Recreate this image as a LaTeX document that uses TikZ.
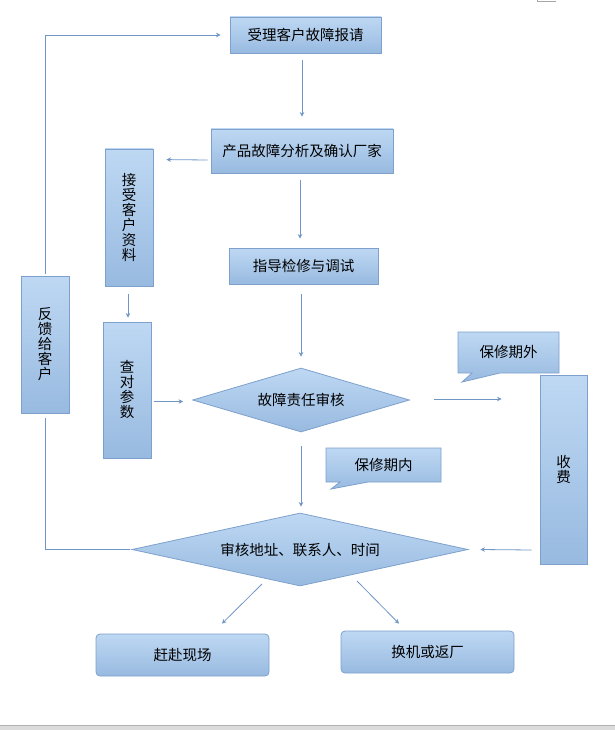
\documentclass[tikz,border=0pt]{standalone}
\usepackage{fontspec}
\newfontfamily\cjk{Noto Sans CJK SC}
\usetikzlibrary{shapes.geometric, shapes.callouts, arrows.meta, positioning}
\definecolor{boxtop}{HTML}{BED8F3}
\definecolor{boxbot}{HTML}{98BAE0}
\definecolor{boxline}{HTML}{7DA0CC}
\definecolor{linkblue}{HTML}{7096C6}
\newcommand\flowfont{\cjk\fontsize{14.5pt}{15pt}\selectfont}

\begin{document}
\begin{tikzpicture}[x=1pt, y=-1pt,
  flowbox/.style={rectangle, draw=boxline, top color=boxtop, bottom color=boxbot, line width=0.8pt, inner sep=0pt, align=center, font=\flowfont},
  roundbox/.style={flowbox, rounded corners=4pt},
  decision/.style={diamond, draw=boxline, top color=boxtop, bottom color=boxbot, line width=0.8pt, inner sep=0pt, font=\flowfont},
  notebox/.style={rectangle callout, draw=boxline, top color=boxtop, bottom color=boxbot, line width=0.8pt, inner sep=0pt, callout pointer width=28pt, font=\flowfont},
  link/.style={draw=linkblue, line width=0.8pt},
  arrow/.style={link, -{Stealth[length=4.5pt,width=4.5pt]}}]

\useasboundingbox (0,0) rectangle (615,730);
\fill[black!14] (0,725) rectangle (615,730);
\draw[black!30, line width=0.8pt] (0,725.4) -- (615,725.4);
\draw[black!35, line width=0.8pt] (537,0) -- (537,1.4) -- (556,1.4);

\node[flowbox, minimum width=151pt, minimum height=36pt] (accept) at (305.5,35) {受理客户故障报请};
\node[flowbox, minimum width=182pt, minimum height=44pt] (analyse) at (302,151) {产品故障分析及确认厂家};
\node[flowbox, minimum width=149pt, minimum height=36pt] (guide) at (303.5,266) {指导检修与调试};
\node[decision, aspect=3.39, minimum width=217pt, minimum height=64pt] (blame) at (301,400) {故障责任审核};
\node[flowbox, minimum width=48pt, minimum height=137pt] (receive) at (129,217.5) {接\\受\\客\\户\\资\\料};
\node[flowbox, minimum width=48pt, minimum height=136pt] (check) at (127,390) {查\\对\\参\\数};
\node[flowbox, minimum width=48pt, minimum height=137pt] (feedback) at (45,344.5) {反\\馈\\给\\客\\户};
\node[notebox, minimum width=101pt, minimum height=41pt, callout absolute pointer={(462,382)}] (outside) at (508.5,352.5) {保修期外};
\node[flowbox, minimum width=47pt, minimum height=189pt] (fee) at (563.5,469.5) {收\\费};
\node[notebox, minimum width=115pt, minimum height=34pt, callout absolute pointer={(331,489)}] (inside) at (383.5,465) {保修期内};
\node[decision, aspect=4.6, minimum width=336pt, minimum height=73pt] (verify) at (300,549.5) {审核地址、联系人、时间};
\node[roundbox, minimum width=173pt, minimum height=42pt] (visit) at (182.5,655) {赶赴现场};
\node[roundbox, minimum width=173pt, minimum height=42pt] (swap) at (427.5,652) {换机或返厂};

\draw[arrow] ([xshift=-3.5pt,yshift=-7pt]accept.south) -- ([yshift=12pt]analyse.north);
\draw[arrow] ([xshift=-3pt,yshift=-9pt]analyse.west) -- ([xshift=13pt,yshift=-11pt]receive.north east);
\draw[arrow] ([xshift=-2pt,yshift=-7pt]analyse.south) -- ([xshift=-3.5pt,yshift=9pt]guide.north);
\draw[arrow] ([xshift=-2.5pt,yshift=-10pt]guide.south) -- ([yshift=11pt]blame.north);
\draw[arrow] ([xshift=-1pt,yshift=-8pt]receive.south) -- ([xshift=1pt,yshift=4pt]check.north);
\draw[arrow] ([xshift=3pt,yshift=-11.5pt]check.east) -- ([xshift=-9pt,yshift=-1.5pt]blame.west);
\draw[arrow] ([xshift=24pt,yshift=1pt]blame.east) -- ([xshift=-38pt,yshift=70.5pt]fee.west);
\draw[arrow] ([yshift=-14pt]blame.south) -- ([xshift=1pt,yshift=6pt]verify.north);
\draw[arrow] ([xshift=-8pt,yshift=-80.5pt]fee.west) -- ([xshift=12pt]verify.east);
\draw[arrow] ([xshift=-38pt,yshift=-34.5pt]verify.center) -- ([xshift=39.5pt,yshift=10pt]visit.north);
\draw[arrow] ([xshift=57pt,yshift=-31.5pt]verify.center) -- ([xshift=-28.5pt,yshift=7pt]swap.north);
\draw[link, shorten <=2pt, shorten >=5pt] (verify.west) -| (feedback.south);
\draw[arrow, shorten <=2pt, shorten >=9pt] (feedback.north) |- (accept.west);

\end{tikzpicture}
\end{document}
